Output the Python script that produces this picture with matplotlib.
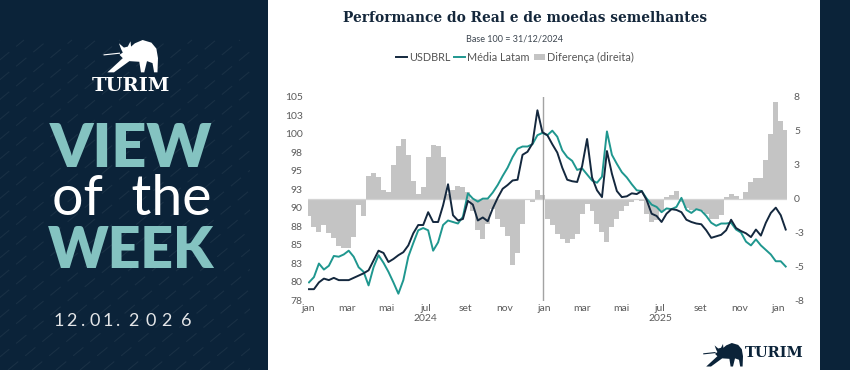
import numpy as np
import pandas as pd
import matplotlib
matplotlib.use("Agg")
from matplotlib import pyplot as plt
from matplotlib.patches import Rectangle, Polygon

plt.rcParams['font.family'] = ['Lato', 'DejaVu Sans']

# Datas (semanais, aprox.) de 02/01/2024 a 12/01/2026
dates = pd.date_range('2024-01-02', '2026-01-12', periods=97)

# Base 100 = 31/12/2024
usdbrl = [79.5, 79.5, 80.4, 80.9, 80.7, 81.0, 80.7, 80.7, 80.7, 81.0,
          81.3, 81.6, 82.0, 83.3, 84.6, 84.3, 83.1, 83.5, 84.0, 84.4,
          85.3, 86.9, 88.0, 88.0, 89.7, 88.4, 88.4, 90.6, 93.4, 89.3,
          88.6, 88.8, 91.2, 90.7, 88.6, 89.0, 88.5, 90.2, 91.6, 92.8,
          93.3, 93.9, 94.0, 97.3, 97.7, 98.8, 103.2, 100.3, 99.9, 98.7,
          97.6, 95.6, 94.0, 93.8, 93.7, 95.8, 99.4, 94.3, 92.6, 91.7,
          97.8, 94.8, 92.5, 91.7, 91.8, 92.2, 92.1, 92.5, 91.3, 89.5,
          89.2, 88.4, 89.5, 90.1, 90.0, 89.7, 88.7, 88.4, 88.2, 88.1,
          87.3, 86.3, 86.5, 86.7, 87.3, 88.7, 87.6, 87.2, 86.9, 86.4,
          87.4, 86.6, 88.3, 89.6, 90.3, 89.3, 87.4]

media_latam = [80.4, 81.1, 82.9, 82.1, 82.6, 83.9, 83.8, 84.1, 84.6, 83.8,
               82.4, 81.8, 80.0, 82.4, 84.0, 83.0, 81.8, 80.4, 78.9, 80.7,
               83.8, 85.6, 87.3, 87.6, 87.3, 84.6, 85.7, 88.0, 88.6, 88.4,
               88.2, 89.1, 92.2, 91.5, 91.1, 91.5, 91.5, 92.3, 93.3, 94.5,
               95.6, 97.0, 98.1, 98.4, 98.4, 98.7, 99.9, 100.2, 99.9, 100.5,
               99.7, 97.9, 97.0, 96.5, 95.3, 95.5, 94.7, 93.9, 93.6, 94.4,
               100.4, 97.3, 96.1, 95.0, 94.3, 93.4, 92.6, 92.5, 91.5, 90.7,
               90.4, 89.7, 90.2, 90.1, 90.4, 91.6, 90.0, 89.6, 90.1, 89.9,
               89.2, 88.3, 87.9, 88.2, 88.2, 88.3, 87.4, 87.0, 85.8, 85.3,
               86.1, 85.3, 84.7, 84.1, 83.2, 83.2, 82.5]

# Diferença em % (eixo direito)
diferenca = [-1.4, -2.2, -2.6, -2.1, -2.7, -3.1, -3.7, -3.9, -3.9, -3.0,
             -0.5, -1.4, 1.8, 2.0, 1.7, 0.7, 0.5, 2.6, 4.1, 4.7,
             3.4, 1.4, 0.4, 0.9, 3.3, 4.2, 4.1, 3.3, 0.4, 0.7,
             1.0, 0.9, 0.5, -1.0, -2.5, -3.2, -2.0, -0.8, -1.6, -2.2,
             -2.9, -5.2, -4.3, -2.0, -0.1, -0.3, 0.7, 0.3, -1.6, -2.1,
             -2.8, -3.2, -3.5, -3.2, -2.8, -1.2, -0.4, -1.0, -2.0, -2.6,
             -3.4, -2.2, -1.6, -1.0, -0.6, -0.3, 0.0, -0.2, -1.2, -1.8,
             -1.7, -1.0, 0.1, 0.3, 0.6, -0.3, -0.7, -0.9, -0.8, -1.0,
             -1.2, -1.6, -1.6, -1.3, 0.1, 0.4, 0.2, 0.0, 0.5, 1.3,
             1.6, 1.6, 3.0, 5.1, 7.6, 6.1, 5.4]

month_ticks = pd.date_range('2024-01-01', '2026-01-01', freq='2MS')
month_labels = ['jan', 'mar', 'mai', 'jul\n2024', 'set', 'nov',
                'jan', 'mar', 'mai', 'jul\n2025', 'set', 'nov', 'jan']

navy = '#0b2339'
teal_txt = '#84c3c1'
c_usd = '#14283e'
c_latam = '#1f978f'
c_bar = '#c4c4c4'
c_tick = '#5b5b5b'

W, H = 850, 370
fig = plt.figure(figsize=(8.5, 3.7), dpi=100, facecolor=navy)

# tela de fundo em pixels
canvas = fig.add_axes([0, 0, 1, 1])
canvas.set_xlim(0, W)
canvas.set_ylim(H, 0)
canvas.axis('off')
canvas.set_zorder(0)
canvas.add_patch(Rectangle((268, 0), 552, H, facecolor='white', edgecolor='none'))

# textura diagonal do painel esquerdo
clip = Rectangle((0, 0), 250, H, transform=canvas.transData)
for x0 in np.arange(-400, 300, 24):
    ln, = canvas.plot([x0, x0 + 400], [H, H - 330], color='white', alpha=0.06,
                      lw=0.8, ls=(0, (12, 8)))
    ln.set_clip_path(clip)


def draw_bull(x0, y0, w, h, color):
    pts = [(0.36, 0.62), (0.33, 0.72), (0.29, 0.90), (0.38, 0.77), (0.45, 0.80),
           (0.50, 0.96), (0.51, 0.80), (0.58, 0.90), (0.72, 1.00), (0.88, 0.92),
           (0.97, 0.74), (1.00, 0.45), (0.99, 0.02), (0.93, 0.02), (0.90, 0.30),
           (0.80, 0.36), (0.75, 0.02), (0.69, 0.02), (0.66, 0.34), (0.48, 0.36),
           (0.20, 0.02), (0.08, 0.02), (0.36, 0.45), (0.30, 0.55)]
    xy = [(x0 + u * w, y0 + (1 - v) * h) for u, v in pts]
    canvas.add_patch(Polygon(xy, closed=True, facecolor=color, edgecolor='none'))
    canvas.plot([x0 + 0.02 * w, x0 + 0.30 * w], [y0 + 0.45 * h, y0 + 0.40 * h],
                color=color, lw=0.8)


draw_bull(103, 40, 55, 33, 'white')
canvas.text(131, 91, 'TURIM', color='white', fontsize=14, fontweight='bold',
            family='DejaVu Serif', ha='center', va='baseline')
canvas.text(131, 167, 'VIEW', color=teal_txt, fontsize=44, fontweight='heavy',
            ha='center', va='baseline')
canvas.text(132, 215, 'of  the', color='white', fontsize=40, fontweight='normal',
            ha='center', va='baseline')
canvas.text(131, 268, 'WEEK', color=teal_txt, fontsize=41, fontweight='heavy',
            ha='center', va='baseline')
for ch, cx in zip('12.01.2026', [58.5, 71.7, 82.7, 95, 107.5, 118.3, 133, 150.8, 166.7, 185.8]):
    canvas.text(cx, 326, ch, color='#e4e6e8', fontsize=13, fontweight='normal',
                ha='center', va='baseline')

draw_bull(703, 343, 40, 24, navy)
canvas.text(774, 357, 'TURIM', color=navy, fontsize=10.5, fontweight='bold',
            family='DejaVu Serif', ha='center', va='baseline')

# títulos
canvas.text(525, 22, 'Performance do Real e de moedas semelhantes', color='#14273b',
            fontsize=9.9, fontweight='bold', family='DejaVu Serif', ha='center', va='baseline')
canvas.text(515, 39.5, 'Base 100 = 31/12/2024', color='#3d4650', fontsize=6.5,
            ha='center', va='center')

# gráfico
left, right, top, bottom = 307.7, 787.0, 96.7, 300.5
ax = fig.add_axes([left / W, 1 - bottom / H, (right - left) / W, (bottom - top) / H])
ax2 = ax.twinx()
ax.set_zorder(3)
ax2.set_zorder(2)
ax.patch.set_visible(False)
ax2.patch.set_visible(False)

bars = ax2.bar(dates, diferenca, width=7.8, color=c_bar, linewidth=0,
               label='Diferença (direita)')
ax2.axhline(0, color='#d4d4d4', lw=0.9)
ax.axvline(pd.Timestamp('2024-12-31'), color='#a3a3a3', lw=1.0, zorder=1)
l1, = ax.plot(dates, usdbrl, color=c_usd, lw=1.4, label='USDBRL', zorder=3)
l2, = ax.plot(dates, media_latam, color=c_latam, lw=1.4, label='Média Latam', zorder=2)

ax.set_xlim(pd.Timestamp('2023-12-31'), pd.Timestamp('2026-01-14'))
ax.set_ylim(78, 105)
ax2.set_ylim(-8, 8)

lt = np.linspace(78, 105, 12)
ax.set_yticks(lt)
ax.set_yticklabels([f'{v:.0f}' for v in lt])
rt = np.linspace(-8, 8, 7)
ax2.set_yticks(rt)
ax2.set_yticklabels([f'{v:.0f}' for v in rt])
ax.set_xticks(month_ticks)
ax.set_xticklabels(month_labels, linespacing=1.1)

for a in (ax, ax2):
    for s in a.spines.values():
        s.set_visible(False)
ax.tick_params(axis='x', length=0, labelsize=7.5, colors=c_tick, pad=2.5)
ax.tick_params(axis='y', length=0, labelsize=7.5, colors=c_tick, pad=3.5)
ax2.tick_params(axis='y', length=0, labelsize=7.5, colors=c_tick, pad=5)

fig.legend(handles=[l1, l2, bars], labels=['USDBRL', 'Média Latam', 'Diferença (direita)'],
           loc='center', bbox_to_anchor=(515 / W, 1 - 57.3 / H), ncol=3, frameon=False,
           fontsize=7.8, handlelength=1.0, handleheight=0.6, handletextpad=0.2,
           columnspacing=0.4, labelcolor='#555555')

plt.savefig('out.png', dpi=100, facecolor=navy)
